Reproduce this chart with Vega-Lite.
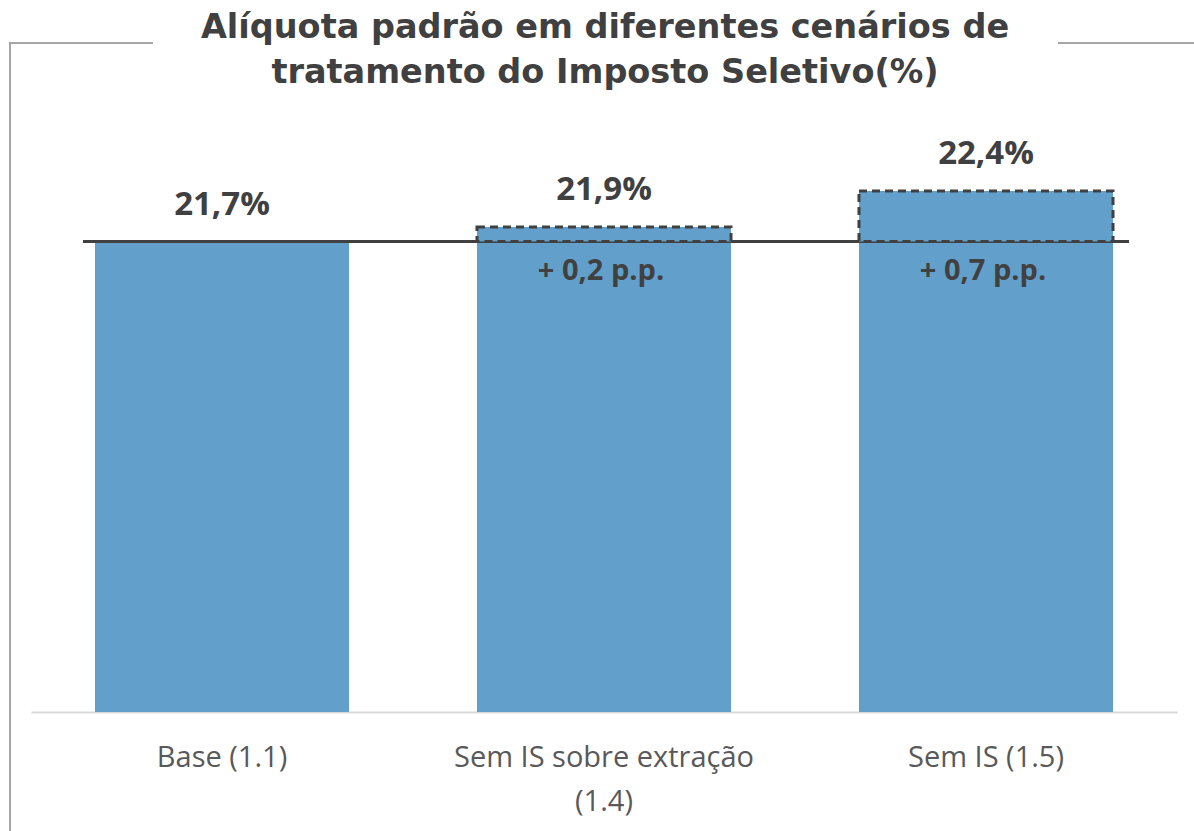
{
  "$schema": "https://vega.github.io/schema/vega-lite/v6.json",
  "width": 1184,
  "height": 788,
  "autosize": {"type": "none"},
  "padding": {"left": 10, "top": 43, "right": 0, "bottom": 0},
  "background": "white",
  "config": {
    "font": "Open Sans",
    "view": {"stroke": "#a6a6a6", "strokeWidth": 2, "strokeDash": [143, 905, 136, 1972, 788]}
  },
  "title": {
    "text": ["Alíquota padrão em diferentes cenários de", "tratamento do Imposto Seletivo(%)"],
    "font": "DejaVu Sans",
    "fontSize": 33.5,
    "fontWeight": "bold",
    "color": "#404040",
    "lineHeight": 45,
    "anchor": "middle",
    "frame": "group",
    "baseline": "bottom",
    "offset": -80,
    "dx": 3
  },
  "data": {
    "values": [
      {"cenario": "Base (1.1)", "valor": 21.7, "rotulo": "21,7%", "delta": ""},
      {"cenario": "Sem IS sobre extração (1.4)", "valor": 21.9, "rotulo": "21,9%", "delta": "+ 0,2 p.p."},
      {"cenario": "Sem IS (1.5)", "valor": 22.4, "rotulo": "22,4%", "delta": "+ 0,7 p.p."}
    ]
  },
  "encoding": {
    "x": {
      "field": "cenario",
      "type": "nominal",
      "sort": null,
      "scale": {"range": [21, 1167], "paddingInner": 0.335, "paddingOuter": 0.1675},
      "axis": {
        "title": null,
        "ticks": false,
        "offset": -119,
        "domainColor": "#d9d9d9",
        "domainWidth": 2,
        "labelFontSize": 29,
        "labelColor": "#595959",
        "labelPadding": 31,
        "labelLineHeight": 44,
        "labelAngle": 0,
        "labelLimit": 500,
        "labelExpr": "datum.value == 'Sem IS sobre extração (1.4)' ? ['Sem IS sobre extração', '(1.4)'] : datum.value"
      }
    }
  },
  "layer": [
    {
      "mark": {"type": "bar", "color": "#62A0CB"},
      "encoding": {
        "y": {"datum": 21.7, "type": "quantitative", "scale": {"domain": [15.178, 24.452], "range": [669, 0], "nice": false, "zero": false}, "axis": null},
        "y2": {"datum": 15.178}
      }
    },
    {
      "mark": {"type": "rule", "color": "#404040", "strokeWidth": 3},
      "encoding": {
        "x": {"datum": "Base (1.1)", "bandPosition": -0.047},
        "x2": {"datum": "Sem IS (1.5)", "bandPosition": 1.063},
        "y": {"datum": 21.7, "type": "quantitative"}
      }
    },
    {
      "transform": [{"filter": "datum.valor > 21.7"}],
      "mark": {"type": "bar", "color": "#62A0CB", "stroke": "#404040", "strokeWidth": 3, "strokeDash": [8, 5]},
      "encoding": {
        "y": {"field": "valor", "type": "quantitative"},
        "y2": {"datum": 21.7}
      }
    },
    {
      "mark": {"type": "text", "fontSize": 33, "fontWeight": "bold", "color": "#404040", "baseline": "middle", "dy": -37},
      "encoding": {
        "y": {"field": "valor", "type": "quantitative"},
        "text": {"field": "rotulo"}
      }
    },
    {
      "mark": {"type": "text", "fontSize": 29, "fontWeight": "bold", "color": "#404040", "baseline": "middle", "dy": 29, "dx": -3},
      "encoding": {
        "y": {"datum": 21.7, "type": "quantitative"},
        "text": {"field": "delta"}
      }
    }
  ]
}
